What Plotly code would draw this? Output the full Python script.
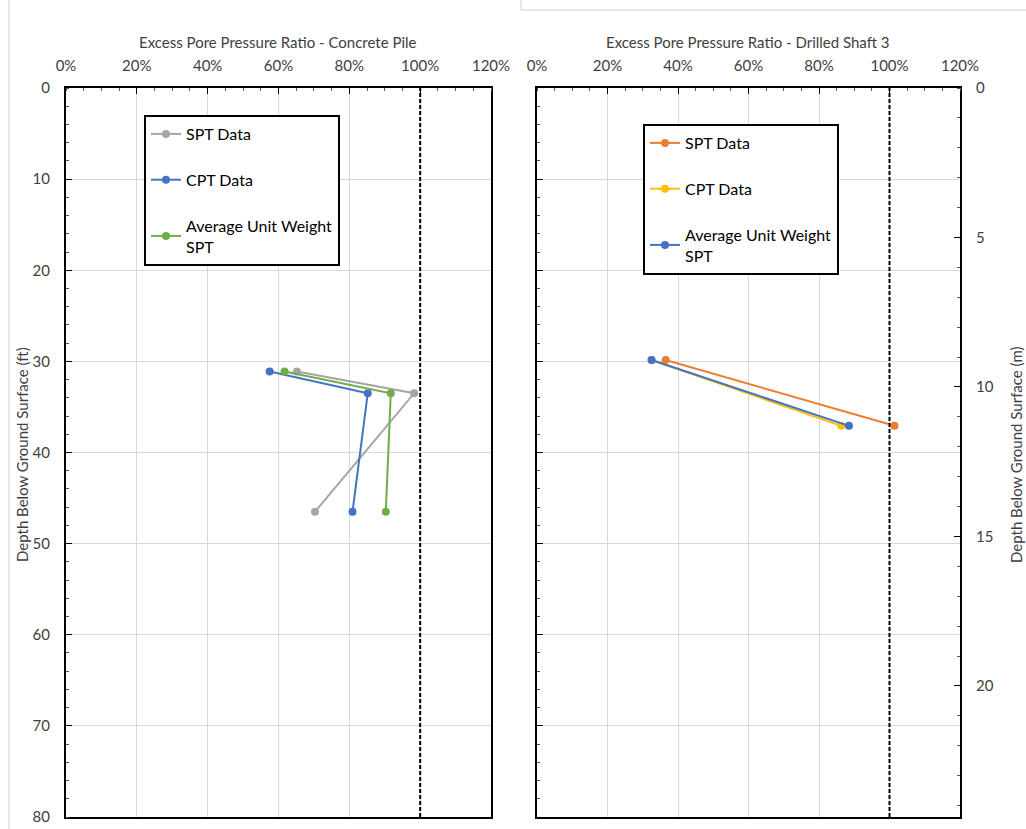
import plotly.graph_objects as go

# ---------------- data ----------------
# Left panel: Concrete Pile (depth in ft, ratio as fraction)
pile_depth_ft = [31.1, 33.5, 46.5]
pile_spt = [0.652, 0.983, 0.703]
pile_cpt = [0.575, 0.852, 0.809]
pile_avg = [0.617, 0.917, 0.903]

# Right panel: Drilled Shaft 3 (depth in m, ratio as fraction)
shaft_depth_m = [9.10, 11.30]
shaft_spt = [0.365, 1.014]
shaft_cpt = [0.325, 0.863]
shaft_avg = [0.325, 0.885]

series_names = ["SPT Data", "CPT Data", "Average Unit Weight<br>SPT"]
pile_colors = ["#A5A5A5", "#4472C4", "#70AD47"]
shaft_colors = ["#ED7D31", "#FFC000", "#4472C4"]

FONT = "Lato"
TXT = "#404040"
W, H = 1026, 829

fig = go.Figure()

for i, (vals, col) in enumerate(zip([pile_spt, pile_cpt, pile_avg], pile_colors)):
    fig.add_trace(go.Scatter(
        x=vals, y=pile_depth_ft, mode="lines+markers", name=series_names[i],
        line=dict(color=col, width=2), marker=dict(color=col, size=8),
        xaxis="x", yaxis="y", legend="legend", legendgroup="p%d" % i))

# invisible traces that create the helper axes (major inside ticks, ft axis of right panel)
for xa, ya in [("x2", "y3"), ("x3", "y"), ("x", "y5"), ("x4", "y3"), ("x2", "y6")]:
    fig.add_trace(go.Scatter(x=[None], y=[None], xaxis=xa, yaxis=ya,
                             showlegend=False, hoverinfo="skip"))

for i, (vals, col) in enumerate(zip([shaft_spt, shaft_cpt, shaft_avg], shaft_colors)):
    fig.add_trace(go.Scatter(
        x=vals, y=shaft_depth_m, mode="lines+markers", name=series_names[i],
        line=dict(color=col, width=2), marker=dict(color=col, size=8),
        xaxis="x2", yaxis="y4", legend="legend2", legendgroup="s%d" % i))

L0, L1 = 66 / W, 491 / W
R0, R1 = 537 / W, 960 / W
Y0, Y1 = 1 - 817 / H, 1 - 88 / H

FS = 15
tickfont = dict(family=FONT, size=FS, color=TXT)
grid = "#D9D9D9"
CLEAR = "rgba(0,0,0,0)"
FT_RANGE = [80, 0]
M_RANGE = [80 * 0.3048, 0]

# labelled x axes: transparent outside ticks push labels away, minor ticks inside
xlab = dict(range=[0, 1.2], dtick=0.2, tickformat=".0%", side="top",
            showgrid=True, gridcolor=grid, gridwidth=1,
            showline=True, linecolor="black", linewidth=2, mirror=True,
            ticks="outside", ticklen=9, tickcolor=CLEAR,
            minor=dict(dtick=0.05, ticks="inside", ticklen=3, tickcolor="#555", showgrid=False),
            tickfont=tickfont, zeroline=False)
# helper x axes: major inside ticks only
xmaj = dict(range=[0, 1.2], dtick=0.2, side="top", showgrid=False, zeroline=False,
            showline=False, showticklabels=False, ticks="inside", ticklen=6, tickcolor="black")
ymaj = dict(dtick=10, showgrid=False, zeroline=False, showline=False,
            showticklabels=False, ticks="inside", ticklen=6, tickcolor="black")

fig.update_layout(
    width=W, height=H,
    margin=dict(l=0, r=0, t=0, b=0, autoexpand=False),
    paper_bgcolor="white", plot_bgcolor="white",
    font=dict(family=FONT, color=TXT),
    xaxis=dict(domain=[L0, L1], anchor="y", **xlab),
    xaxis3=dict(overlaying="x", anchor="y", **xmaj),
    yaxis=dict(domain=[Y0, Y1], anchor="x", range=FT_RANGE, dtick=10,
               showgrid=True, gridcolor=grid, zeroline=False,
               showline=True, linecolor="black", linewidth=2, mirror=True,
               ticks="outside", ticklen=11, tickcolor=CLEAR,
               minor=dict(dtick=2, ticks="inside", ticklen=3, tickcolor="#555", showgrid=False),
               tickfont=tickfont),
    yaxis5=dict(overlaying="y", anchor="x", side="left", range=FT_RANGE, **ymaj),
    xaxis2=dict(domain=[R0, R1], anchor="y3", **xlab),
    xaxis4=dict(overlaying="x2", anchor="y3", **xmaj),
    yaxis3=dict(domain=[Y0, Y1], anchor="x2", range=FT_RANGE, dtick=10,
                showgrid=True, gridcolor=grid, zeroline=False, showticklabels=False,
                showline=True, linecolor="black", linewidth=2, mirror=True,
                ticks="inside", ticklen=6, tickcolor="black",
                minor=dict(dtick=2, ticks="inside", ticklen=3, tickcolor="#555", showgrid=False)),
    yaxis4=dict(overlaying="y3", anchor="x2", side="right", range=M_RANGE,
                dtick=5, showgrid=False, zeroline=False, showline=False,
                ticks="outside", ticklen=12, tickcolor=CLEAR,
                minor=dict(dtick=1, ticks="inside", ticklen=3, tickcolor="#555"),
                tickfont=tickfont),
    yaxis6=dict(overlaying="y3", anchor="x2", side="right", range=M_RANGE,
                **{**ymaj, "dtick": 5}),
    legend=dict(x=144 / W, y=1 - 115 / H, xanchor="left", yanchor="top",
                bgcolor="white", bordercolor="black", borderwidth=2,
                font=dict(family=FONT, size=16, color="black"),
                tracegroupgap=22, itemwidth=30),
    legend2=dict(x=643 / W, y=1 - 124 / H, xanchor="left", yanchor="top",
                 bgcolor="white", bordercolor="black", borderwidth=2,
                 font=dict(family=FONT, size=16, color="black"),
                 tracegroupgap=22, itemwidth=30),
    showlegend=True,
)

# 100% reference lines
for xr, yr in [("x", "y"), ("x2", "y3")]:
    fig.add_shape(type="line", xref=xr, yref=yr + " domain", x0=1.0, x1=1.0, y0=0, y1=1,
                  line=dict(color="black", width=2, dash="4px,2px"))

# titles
ann_font = dict(family=FONT, size=FS, color=TXT)
fig.add_annotation(text="Excess Pore Pressure Ratio - Concrete Pile", xref="paper", yref="paper",
                   x=278 / W, y=1 - 42 / H, xanchor="center", yanchor="middle",
                   showarrow=False, font=ann_font)
fig.add_annotation(text="Excess Pore Pressure Ratio - Drilled Shaft 3", xref="paper", yref="paper",
                   x=748 / W, y=1 - 42 / H, xanchor="center", yanchor="middle",
                   showarrow=False, font=ann_font)
fig.add_annotation(text="Depth Below Ground Surface (ft)", xref="paper", yref="paper",
                   x=22 / W, y=1 - 455 / H, xanchor="center", yanchor="middle",
                   showarrow=False, textangle=-90, font=ann_font)
fig.add_annotation(text="Depth Below Ground Surface (m)", xref="paper", yref="paper",
                   x=1016 / W, y=1 - 455 / H, xanchor="center", yanchor="middle",
                   showarrow=False, textangle=-90, font=ann_font)

# faint frame lines from the source document
fig.add_shape(type="line", xref="paper", yref="paper", x0=9 / W, x1=9 / W, y0=0, y1=1,
              line=dict(color="#D0D0D0", width=1))
fig.add_shape(type="line", xref="paper", yref="paper", x0=521 / W, x1=1, y0=1 - 10 / H, y1=1 - 10 / H,
              line=dict(color="#D0D0D0", width=1))
fig.add_shape(type="line", xref="paper", yref="paper", x0=521 / W, x1=521 / W, y0=1 - 10 / H, y1=1,
              line=dict(color="#D0D0D0", width=1))

fig.write_html("out.html", config={"displayModeBar": False},
               post_script="document.body.style.margin='0';document.body.style.overflow='hidden';")
